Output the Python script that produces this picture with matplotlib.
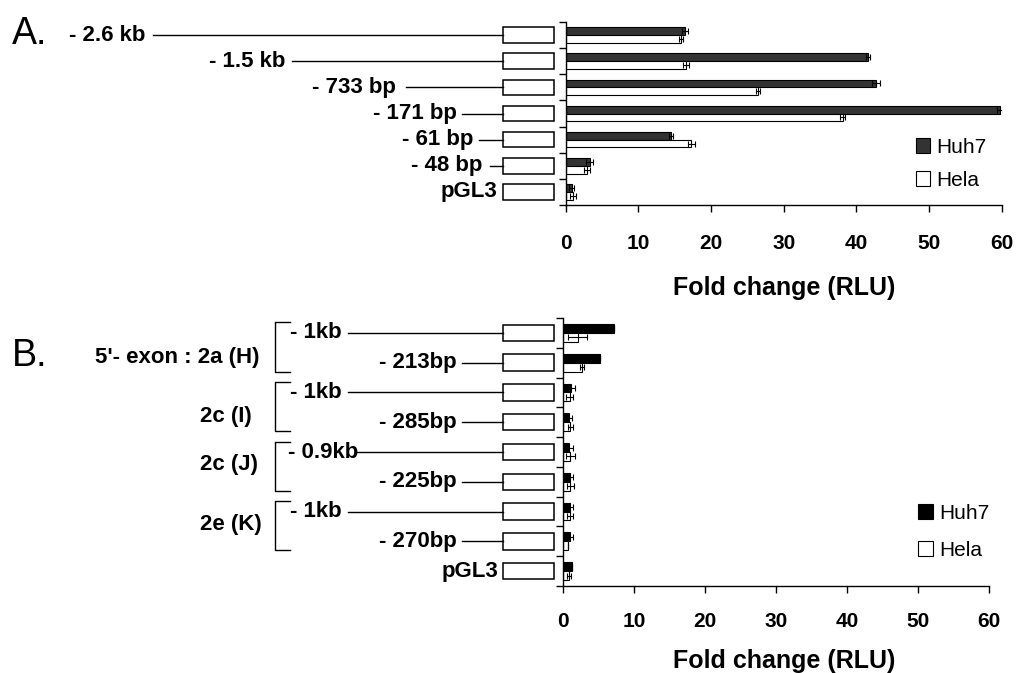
import numpy as np
import matplotlib
matplotlib.use("Agg")
import matplotlib.pyplot as plt
from matplotlib.patches import Rectangle

plt.rcParams['font.family'] = ['Liberation Sans', 'DejaVu Sans']

# ---- data, panel A ----
constructs_a = ["- 2.6 kb", "- 1.5 kb", "- 733 bp", "- 171 bp", "- 61 bp", "- 48 bp", "pGL3"]
huh7_a = [16.4, 41.6, 42.7, 59.8, 14.5, 3.3, 0.8]
hela_a = [15.9, 16.5, 26.5, 38.1, 17.3, 2.9, 1.0]
huh7_a_err = [0.4, 0.3, 0.5, 0.4, 0.3, 0.5, 0.3]
hela_a_err = [0.3, 0.4, 0.3, 0.4, 0.5, 0.4, 0.4]

# ---- data, panel B ----
constructs_b = ["- 1kb", "- 213bp", "- 1kb", "- 285bp", "- 0.9kb", "- 225bp",
                "- 1kb", "- 270bp", "pGL3"]
groups_b = ["5'- exon : 2a (H)", "2c (I)", "2c (J)", "2e (K)"]
huh7_b = [7.1, 5.1, 1.1, 0.8, 0.8, 1.0, 1.0, 1.0, 1.2]
hela_b = [2.0, 2.6, 0.9, 1.0, 1.0, 1.0, 0.9, 0.7, 0.8]
huh7_b_err = [0.0, 0.0, 0.5, 0.4, 0.5, 0.4, 0.4, 0.3, 0.0]
hela_b_err = [1.3, 0.3, 0.5, 0.4, 0.6, 0.5, 0.4, 0.0, 0.3]

xticks = [0, 10, 20, 30, 40, 50, 60]
series = ["Huh7", "Hela"]

# ---- layout (pixels of a 1016 x 673 canvas) ----
W, H = 1016, 673
BOX_X0, BOX_X1 = 503, 554
# panel A: where each construct line starts, where its label ends
a_line_start = [153, 292, 406, 462, 479, 490, None]
a_label_end = [145, 285, 396, 457, 473, 482, 497]
# panel B: first row of a pair is labelled on the left, second on the right
b_line_start = [348, 462, 348, 462, 357, 462, 348, 462, None]
b_label_x = [290, 457, 290, 457, 288, 457, 290, 457, 498]
b_label_ha = ["left", "right"] * 4 + ["right"]
b_group_x = [260, 200, 200, 200]
b_group_ha = ["right", "left", "left", "left"]
b_group_dy = [0.33, 0.3, -0.08, -0.07]
BRACKET_X, BRACKET_TICK = 275, 290

fig = plt.figure(figsize=(W / 100, H / 100), dpi=100)


def px_axes(left, top, right, bottom):
    return fig.add_axes([left / W, 1 - bottom / H, (right - left) / W, (bottom - top) / H])


def bar_panel(ax, huh7, hela, e1, e2, dark, leg_xy, leg_gap, labelpos, tickpad):
    n = len(huh7)
    y = np.arange(n)
    h = 0.3
    ax.barh(y - h / 2, huh7, height=h, color=dark, edgecolor="black", lw=0.8, label=series[0])
    ax.barh(y + h / 2, hela, height=h, color="white", edgecolor="black", lw=0.8, label=series[1])
    ax.errorbar(huh7, y - h / 2, xerr=e1, fmt="none", ecolor="black", elinewidth=0.8, capsize=2, capthick=0.8)
    ax.errorbar(hela, y + h / 2, xerr=e2, fmt="none", ecolor="black", elinewidth=0.8, capsize=2, capthick=0.8)
    ax.set_ylim(n - 0.5, -0.5)
    ax.set_xlim(0, 60)
    ax.set_yticks(np.arange(n + 1) - 0.5)
    ax.set_yticklabels([])
    ax.set_xticks(xticks)
    ax.set_xticklabels([str(t) for t in xticks], fontsize=15, fontweight="bold")
    ax.tick_params(axis="y", direction="out", length=5, width=1)
    ax.tick_params(axis="x", direction="out", length=5, width=1, pad=tickpad)
    for s in ["top", "right"]:
        ax.spines[s].set_visible(False)
    for s in ["left", "bottom"]:
        ax.spines[s].set_linewidth(1)
    ax.set_xlabel("Fold change (RLU)", fontsize=18, fontweight="bold")
    ax.xaxis.set_label_coords(*labelpos)
    ax.xaxis.label.set_va("center")
    ax.legend(loc="upper left", bbox_to_anchor=leg_xy, frameon=False, fontsize=15,
              handlelength=0.7, handleheight=0.7, handletextpad=0.3,
              labelspacing=leg_gap, borderpad=0, borderaxespad=0)


def diagram(dax, width_px, n, box_h):
    dax.set_xlim(0, width_px)
    dax.set_ylim(n - 0.5, -0.5)
    dax.axis("off")
    for i in range(n):
        dax.add_patch(Rectangle((BOX_X0, i - box_h / 2), BOX_X1 - BOX_X0, box_h,
                                facecolor="white", edgecolor="black", lw=1.1))


# ---- panel A ----
A_L, A_T, A_R, A_B = 565.7, 22, 1001.7, 205
ax_a = px_axes(A_L, A_T, A_R, A_B)
bar_panel(ax_a, huh7_a, hela_a, huh7_a_err, hela_a_err, "#333333",
          (0.803, 0.366), 0.65, (0.5, -0.455), 16)

dax_a = px_axes(0, A_T, A_L, A_B)
diagram(dax_a, A_L, len(constructs_a), 0.6)
for i, (lab, x0, xe) in enumerate(zip(constructs_a, a_line_start, a_label_end)):
    if x0 is not None:
        dax_a.plot([x0, BOX_X0], [i, i], color="black", lw=1.0)
    dax_a.text(xe, i, lab, ha="right", va="center", fontsize=16, fontweight="bold")

fig.text(12 / W, 1 - 34 / H, "A.", fontsize=27, ha="left", va="center")

# ---- panel B ----
B_L, B_T, B_R, B_B = 563.3, 318, 989.3, 586
ax_b = px_axes(B_L, B_T, B_R, B_B)
bar_panel(ax_b, huh7_b, hela_b, huh7_b_err, hela_b_err, "black",
          (0.833, 0.306), 0.85, (0.518, -0.28), 14)

dax_b = px_axes(0, B_T, B_L, B_B)
diagram(dax_b, B_L, len(constructs_b), 0.55)
for i, (lab, x0, lx, ha) in enumerate(zip(constructs_b, b_line_start, b_label_x, b_label_ha)):
    if x0 is not None:
        dax_b.plot([x0, BOX_X0], [i, i], color="black", lw=1.0)
    dax_b.text(lx, i, lab, ha=ha, va="center", fontsize=16, fontweight="bold")

for g, name in enumerate(groups_b):
    r0, r1 = 2 * g, 2 * g + 1
    top, bot = r0 - 0.35, r1 + 0.3
    dax_b.plot([BRACKET_TICK, BRACKET_X, BRACKET_X, BRACKET_TICK], [top, top, bot, bot],
               color="black", lw=1.0)
    dax_b.text(b_group_x[g], (r0 + r1) / 2 + b_group_dy[g], name, ha=b_group_ha[g],
               va="center", fontsize=16, fontweight="bold")

fig.text(12 / W, 1 - 356 / H, "B.", fontsize=27, ha="left", va="center")

fig.savefig("out.png", dpi=100)
